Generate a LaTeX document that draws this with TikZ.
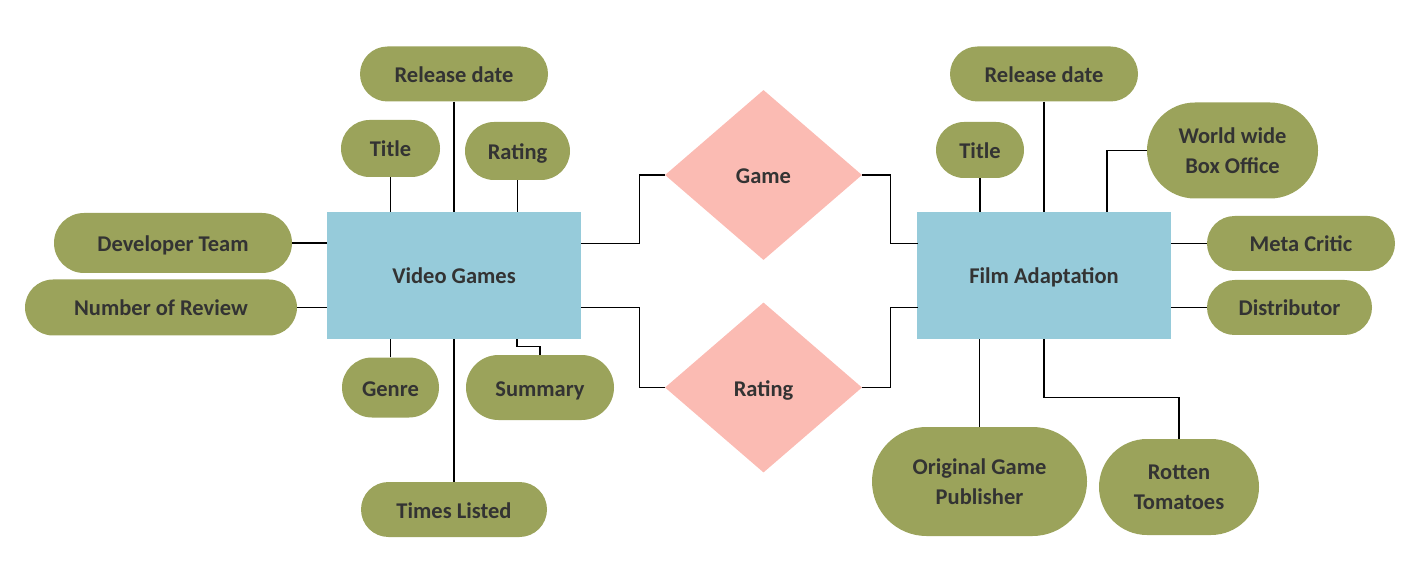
\documentclass[tikz,border=0pt]{standalone}
\usepackage{fontspec}
\setmainfont{Carlito}
\usetikzlibrary{shapes.misc,shapes.geometric}
\definecolor{olive}{HTML}{9BA35B}
\definecolor{entblue}{HTML}{96CBDA}
\definecolor{relpink}{HTML}{FBBBB3}
\definecolor{ink}{HTML}{333333}
\tikzset{
  lbl/.style={font=\bfseries\fontsize{22.5}{30}\selectfont, text=ink, align=center, inner sep=0pt},
  oneline/.style={text height=22pt, text depth=5pt},
  entity/.style={lbl, oneline, rectangle, fill=entblue, minimum width=254pt, minimum height=127pt},
  attr/.style={lbl, rounded rectangle, fill=olive},
  rel/.style={lbl, oneline, diamond, fill=relpink, minimum width=197pt, minimum height=170pt, shape aspect=1.16},
  link/.style={draw=black, line width=1.5pt}
}
\begin{document}
\begin{tikzpicture}[x=1pt,y=-1pt]
\useasboundingbox (0,0) rectangle (1419,585);

% entities
\node[entity] (vg) at (454,275.5) {Video Games};
\node[entity] (fa) at (1044,275.5) {Film Adaptation};

% relationships
\node[rel] (game) at (763.5,175) {Game};
\node[rel] (rate) at (763.5,387.5) {Rating};

% attributes of Video Games
\node[attr, oneline, minimum width=238pt, minimum height=60pt] (dev) at (173,243) {Developer Team};
\node[attr, oneline, minimum width=272pt, minimum height=56pt] (nrev) at (161,307.5) {Number of Review};
\node[attr, oneline, minimum width=99pt, minimum height=57pt] (vtitle) at (390.5,148.5) {Title};
\node[attr, oneline, minimum width=188pt, minimum height=55pt] (vrel) at (454,74) {Release date};
\node[attr, oneline, minimum width=105pt, minimum height=58pt] (vrat) at (517.5,151) {Rating};
\node[attr, oneline, minimum width=97pt, minimum height=60pt] (genre) at (390.5,387.5) {Genre};
\node[attr, oneline, minimum width=148pt, minimum height=65pt] (summ) at (540,387.5) {Summary};
\node[attr, oneline, minimum width=186pt, minimum height=55pt] (times) at (454,509.5) {Times Listed};

% attributes of Film Adaptation
\node[attr, oneline, minimum width=188pt, minimum height=55pt] (frel) at (1044,74) {Release date};
\node[attr, oneline, minimum width=88pt, minimum height=56pt] (ftitle) at (980,150) {Title};
\node[attr, minimum width=171pt, minimum height=96pt] (box) at (1232.5,150.5) {World wide\\Box Office};
\node[attr, oneline, minimum width=188pt, minimum height=55pt] (meta) at (1301,243.5) {Meta Critic};
\node[attr, oneline, minimum width=165pt, minimum height=55pt] (dist) at (1289.5,307.5) {Distributor};
\node[attr, minimum width=215pt, minimum height=109pt] (pub) at (979.5,481.5) {Original Game\\Publisher};
\node[attr, minimum width=160pt, minimum height=96pt] (rt) at (1179,487) {Rotten\\Tomatoes};

% Video Games attribute links
\draw[link] (dev.east) -- (dev.east -| vg.west);
\draw[link] (nrev.east) -- (nrev.east -| vg.west);
\draw[link] (vtitle.south) -- (vtitle.south |- vg.north);
\draw[link] (vrel.south) -- (vrel.south |- vg.north);
\draw[link] (vrat.south) -- (vrat.south |- vg.north);
\draw[link] (genre.north) -- (genre.north |- vg.south);
\draw[link] (times.north) -- (times.north |- vg.south);
\coordinate (s0) at (517,339);
\draw[link] (s0) |- (540,346.5) -- (summ.north);

% Film Adaptation attribute links
\draw[link] (frel.south) -- (frel.south |- fa.north);
\draw[link] (ftitle.south) -- (ftitle.south |- fa.north);
\coordinate (b0) at (1107,212);
\draw[link] (b0) |- (box.west);
\draw[link] (meta.west) -- (meta.west -| fa.east);
\draw[link] (dist.west) -- (dist.west -| fa.east);
\draw[link] (pub.north) -- (pub.north |- fa.south);
\coordinate (r0) at (1044,339);
\draw[link] (r0) |- (1179,397.5) -- (rt.north);

% relationship links
\coordinate (vg1) at (581,243.5);
\coordinate (vg2) at (581,307.5);
\coordinate (fa1) at (918,243.5);
\coordinate (fa2) at (918,307.5);
\draw[link] (vg1) -| (639.5,175) -- (game.west);
\draw[link] (vg2) -| (639.5,387.5) -- (rate.west);
\draw[link] (game.east) -| (890.5,243.5) -- (fa1);
\draw[link] (rate.east) -| (890.5,307.5) -- (fa2);
\end{tikzpicture}
\end{document}
